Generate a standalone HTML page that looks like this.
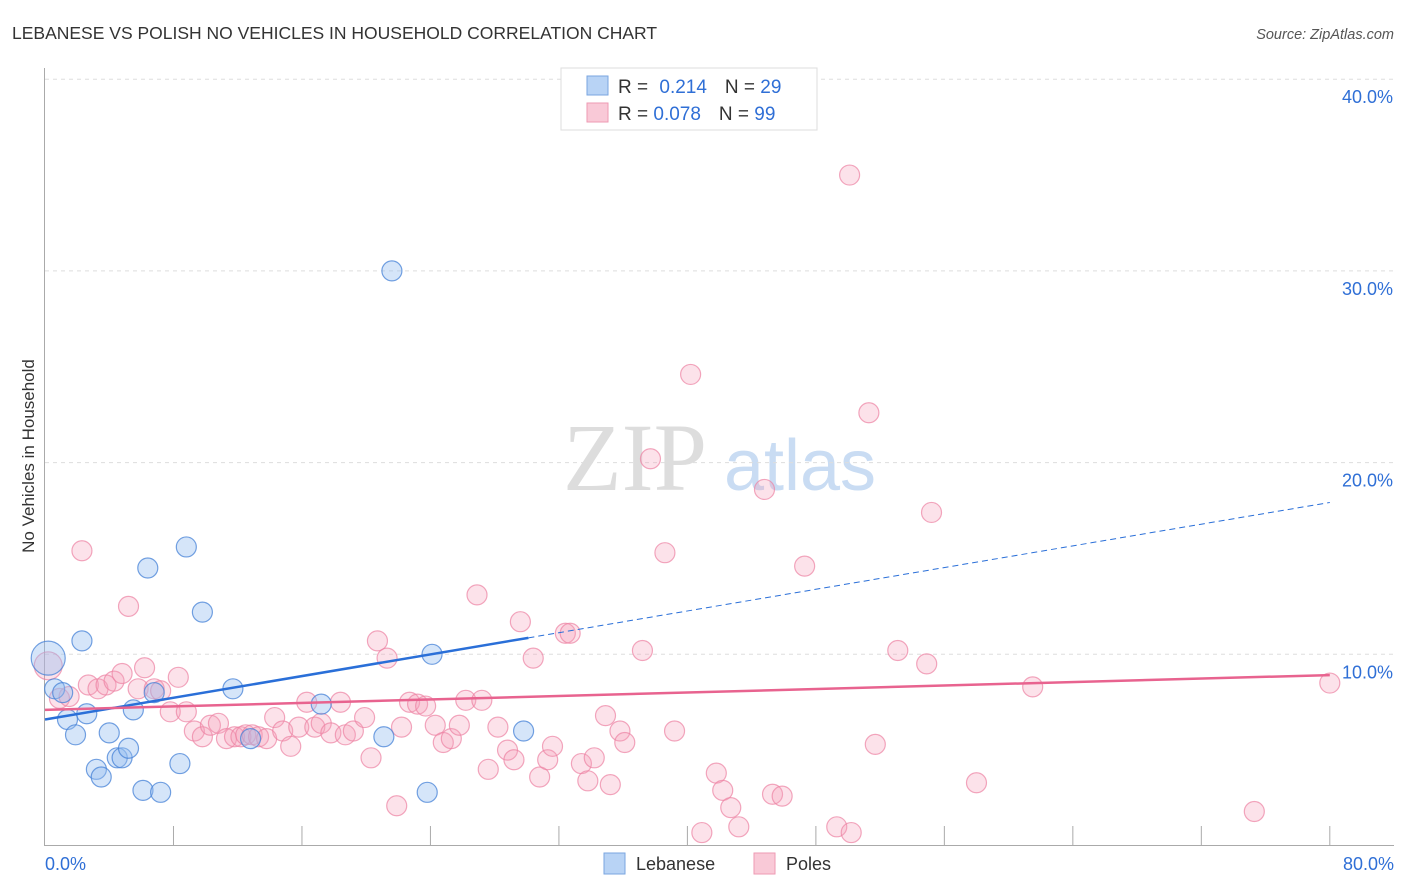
<!DOCTYPE html>
<html><head><meta charset="utf-8"><style>
body{margin:0;background:#fff;font-family:"Liberation Sans",sans-serif;}
svg{display:block}
</style></head><body>
<svg id="chart" width="1406" height="892">
<text x="12" y="39" font-size="17.5" fill="#333">LEBANESE VS POLISH NO VEHICLES IN HOUSEHOLD CORRELATION CHART</text>
<text x="1394" y="39" font-size="14.5" fill="#555" font-style="italic" text-anchor="end">Source: ZipAtlas.com</text>
<text x="34" y="456" font-size="17" fill="#333" text-anchor="middle" transform="rotate(-90 34 456)">No Vehicles in Household</text>
<g><text x="635" y="490" font-size="96" fill="#ddd" font-family="Liberation Serif" text-anchor="middle">ZIP</text><text x="800" y="490" font-size="72" fill="#c9dcf3" text-anchor="middle">atlas</text></g>
<g id="grid"></g><g id="axes"></g><g id="pts"></g><g id="trend"></g>
<g>
<rect x="561" y="68" width="256" height="62" fill="#fff" stroke="#ddd"/>
<rect x="587" y="76" width="21" height="19" fill="#b8d3f5" stroke="#7aa6e0"/>
<rect x="587" y="103" width="21" height="19" fill="#f9c9d7" stroke="#ee9ab3"/>
<text x="618" y="93" font-size="19" fill="#333">R = <tspan fill="#2f6fd6" dx="6">0.214</tspan><tspan dx="18" fill="#333">N = </tspan><tspan fill="#2f6fd6">29</tspan></text>
<text x="618" y="120" font-size="19" fill="#333">R = <tspan fill="#2f6fd6">0.078</tspan><tspan dx="18" fill="#333">N = </tspan><tspan fill="#2f6fd6">99</tspan></text>
</g>
<g>
<rect x="604" y="853" width="21" height="21" fill="#b8d3f5" stroke="#7aa6e0"/>
<text x="636" y="870" font-size="18" fill="#333">Lebanese</text>
<rect x="754" y="853" width="21" height="21" fill="#f9c9d7" stroke="#ee9ab3"/>
<text x="786" y="870" font-size="18" fill="#333">Poles</text>
</g>
</svg>
<script>
const xTicks=[0,8,16,24,32,40,48,56,64,72,80];
const yTicks=[10,20,30,40];
const lebX=[0.2,0.6,1.1,1.4,1.9,2.3,2.6,3.2,3.5,4.0,4.5,4.8,5.2,5.5,6.1,6.4,6.8,7.2,8.4,8.8,9.8,11.7,12.8,17.2,21.1,21.6,23.8,24.1,29.8];
const lebY=[9.8,8.2,8.0,6.6,5.8,10.7,6.9,4.0,3.6,5.9,4.6,4.6,5.1,7.1,2.9,14.5,8.0,2.8,4.3,15.6,12.2,8.2,5.6,7.4,5.7,30.0,2.8,10.0,6.0];
const polX=[0.2,0.9,1.5,2.3,2.7,3.3,3.8,4.3,4.8,5.2,5.8,6.2,6.8,7.2,7.8,8.3,8.8,9.3,9.8,10.3,10.8,11.3,11.8,12.2,12.5,12.9,13.3,13.8,14.3,14.8,15.3,15.8,16.3,16.8,17.2,17.8,18.4,18.7,19.2,19.9,20.3,20.7,21.3,21.9,22.2,22.7,23.2,23.7,24.3,24.8,25.3,25.8,26.2,26.9,27.2,27.6,28.2,28.8,29.2,29.6,30.4,30.8,31.3,31.6,32.4,32.7,33.4,33.8,34.2,34.9,35.2,35.8,36.1,37.2,37.7,38.6,39.2,40.2,40.9,41.8,42.2,42.7,43.2,44.8,45.3,45.9,47.3,49.3,50.1,50.2,51.3,51.7,53.1,54.9,55.2,58.0,61.5,75.3,80.0];
const polY=[9.4,7.7,7.8,15.4,8.4,8.2,8.4,8.6,9.0,12.5,8.2,9.3,8.2,8.1,7.0,8.8,7.0,6.0,5.7,6.3,6.4,5.6,5.7,5.7,5.8,5.8,5.7,5.6,6.7,6.0,5.2,6.2,7.5,6.2,6.4,5.9,7.5,5.8,6.0,6.7,4.6,10.7,9.8,2.1,6.2,7.5,7.4,7.3,6.3,5.4,5.6,6.3,7.6,13.1,7.6,4.0,6.2,5.0,4.5,11.7,9.8,3.6,4.5,5.2,11.1,11.1,4.3,3.4,4.6,6.8,3.2,6.0,5.4,10.2,20.2,15.3,6.0,24.6,0.7,3.8,2.9,2.0,1.0,18.6,2.7,2.6,14.6,1.0,35.0,0.7,22.6,5.3,10.2,9.5,17.4,3.3,8.3,1.8,8.5];
const X=v=>45+v*16.06, Y=v=>846-v*19.17;
const NS='http://www.w3.org/2000/svg';
function mk(t,a,p){const e=document.createElementNS(NS,t);for(const k in a)e.setAttribute(k,a[k]);p.appendChild(e);return e;}
const grid=document.getElementById('grid'),axes=document.getElementById('axes'),pts=document.getElementById('pts'),tr=document.getElementById('trend');
yTicks.forEach(v=>{
 const l=mk('line',{x1:45,x2:1394,y1:Y(v),y2:Y(v),stroke:'#ddd','stroke-dasharray':'4,4'},grid);
 
 
 const t=mk('text',{x:1393,y:Y(v)+24,'font-size':18,fill:'#2f6fd6','text-anchor':'end'},axes);
 t.textContent=v.toFixed(1)+'%';
 
 
});
const la=mk('line',{x1:44.5,x2:44.5,y1:68,y2:846,stroke:'#aaa'},axes);


const ba=mk('line',{x1:44,x2:1394,y1:845.5,y2:845.5,stroke:'#aaa'},axes);


xTicks.forEach(v=>{
 if(v>0){const k=mk('line',{x1:X(v),x2:X(v),y1:826,y2:846,stroke:'#aaa'},axes);
 
 }
});
[[0,'0.0%',45,'start'],[80,'80.0%',1394,'end']].forEach(a=>{
 const t=mk('text',{x:a[2],y:870,'font-size':18,fill:'#2f6fd6','text-anchor':a[3]},axes);
 t.textContent=a[1];
 
 
});
polX.forEach((x,i)=>{
 const c=mk('circle',{cx:X(x),cy:Y(polY[i]),r:i==0?14:10,fill:'rgba(244,160,185,0.3)',stroke:'rgba(236,130,162,0.7)','stroke-width':1.2},pts);
 
 
});
lebX.forEach((x,i)=>{
 const c=mk('circle',{cx:X(x),cy:Y(lebY[i]),r:i==0?17:10,fill:'rgba(150,190,240,0.4)',stroke:'rgba(70,130,215,0.75)','stroke-width':1.2},pts);
 
 
});
const bl=(v)=>6.6+v*0.1415, pl=(v)=>7.1+v*0.0227;
const t1=mk('line',{x1:X(0),y1:Y(bl(0)),x2:X(30.1),y2:Y(bl(30.1)),stroke:'#2a6fd8','stroke-width':2.5},tr);


const t2=mk('line',{x1:X(30.1),y1:Y(bl(30.1)),x2:X(80),y2:Y(bl(80)),stroke:'#2a6fd8','stroke-width':1,'stroke-dasharray':'6,4'},tr);


const t3=mk('line',{x1:X(0),y1:Y(pl(0)),x2:X(80),y2:Y(pl(80)),stroke:'#e8638f','stroke-width':2.5},tr);


</script>
</body></html>
